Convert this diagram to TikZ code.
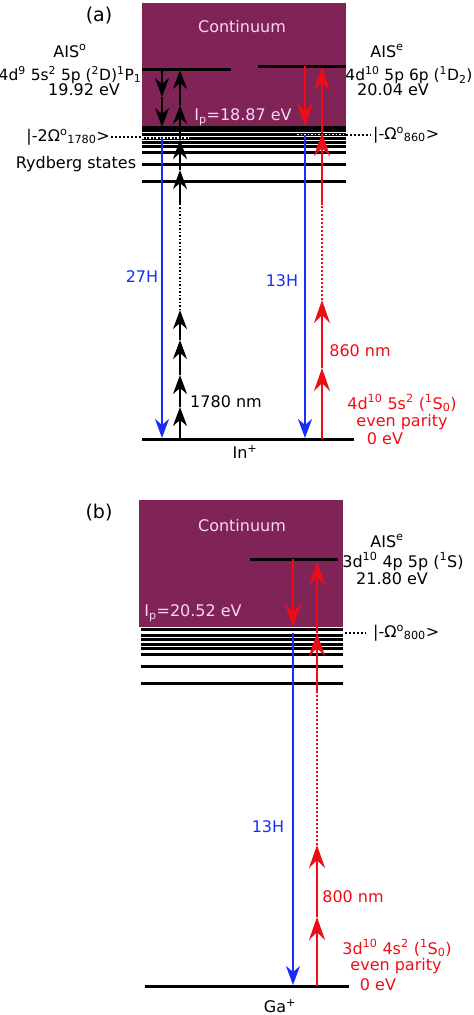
\documentclass[tikz,border=0pt]{standalone}
\usepackage{fontspec}
\setmainfont{DejaVu Sans}
\usetikzlibrary{arrows.meta}

\definecolor{contpurple}{RGB}{128,36,88}
\definecolor{conttext}{RGB}{248,214,244}
\definecolor{hhgblue}{RGB}{25,45,250}
\definecolor{laserred}{RGB}{240,12,20}

\tikzset{
  lvl/.style={line width=3pt},
  photon/.style={-{Stealth[length=19pt,width=14pt,inset=6pt]},line width=1.5pt},
  redphoton/.style={-{Stealth[length=23pt,width=16pt,inset=8pt]},line width=1.5pt,laserred},
  dots/.style={dotted,line width=2pt},
  lbl/.style={inner sep=0pt},
}

\begin{document}
\begin{tikzpicture}[x=1pt,y=-1pt,font=\fontsize{16}{19}\selectfont]
\useasboundingbox (0,0) rectangle (474,1015);

% ---------- (a) indium ----------
\fill[contpurple] (142,3) rectangle (346,127);
\draw[lvl] (142,69)--(231,69) (258,66)--(346,66);
\foreach \y in {127.5,130.5,134.5,138,142,146,152,164.5,181.5}
  \draw[lvl] (142,\y)--(346,\y);
\draw[lvl] (142,439)--(354,439);
\draw[dots] (111,137)--(142,137) (346,134.5)--(371,134.5);
\draw[dots,white,line width=1.5pt] (142,138)--(190,138) (297,134.5)--(345,134.5);

% 1780 nm ladder and 27H
\draw[photon] (162,69)--(162,97);
\draw[photon] (162,97)--(162,127);
\draw[photon,hhgblue] (162,138)--(162,438);
\foreach \y [remember=\y as \ly (initially 439)] in {407,375,340,310}
  \draw[photon] (180,\ly)--(180,\y);
\draw[dots,line width=1.5pt] (180,310)--(180,205);
\foreach \y [remember=\y as \ly (initially 205)] in {170,140,105,70}
  \draw[photon] (180,\ly)--(180,\y);

% 860 nm ladder and 13H
\draw[redphoton] (305,66)--(305,126);
\draw[photon,hhgblue] (305,134.5)--(305,438);
\foreach \y [remember=\y as \ly (initially 439)] in {368,300}
  \draw[redphoton] (322,\ly)--(322,\y);
\draw[dots,laserred] (322,300)--(322,205);
\foreach \y [remember=\y as \ly (initially 205)] in {133,67}
  \draw[redphoton] (322,\ly)--(322,\y);

\node[lbl,font=\fontsize{19}{22}\selectfont] (tagA) at (99,16) {(a)};
\node[lbl,text=conttext] (contA) at (242,27) {Continuum};
\node[lbl,anchor=base] (aisoA) at (70,57) {AIS\textsuperscript{o}};
\node[lbl,anchor=base,font=\fontsize{15.5}{18}\selectfont] (aisoconf) at (70,80) {4d\textsuperscript{9} 5s\textsuperscript{2} 5p (\textsuperscript{2}D)\textsuperscript{1}P\textsubscript{1}};
\node[lbl,anchor=base] (aisoE) at (84,95) {19.92 eV};
\node[lbl,anchor=base] (aiseA) at (387,57) {AIS\textsuperscript{e}};
\node[lbl,anchor=base,font=\fontsize{15.5}{18}\selectfont] (aiseconfA) at (409,80) {4d\textsuperscript{10} 5p 6p (\textsuperscript{1}D\textsubscript{2})};
\node[lbl,anchor=base] (aiseEA) at (393,95) {20.04 eV};
\node[lbl,text=conttext] (ipA) at (243,117) {I\textsubscript{p}=18.87 eV};
\node[lbl,anchor=east] (omega1780) at (110,137) {|-2Ω\textsuperscript{o}\textsubscript{1780}>};
\node[lbl,anchor=west] (omega860) at (373,135) {|-Ω\textsuperscript{o}\textsubscript{860}>};
\node[lbl] (ryd) at (76,164) {Rydberg states};
\node[lbl,text=hhgblue] (h27) at (142,277) {27H};
\node[lbl,text=hhgblue] (h13A) at (282,281) {13H};
\node[lbl,text=laserred] (nm860) at (360,351) {860 nm};
\node[lbl] (nm1780) at (226,402) {1780 nm};
\node[lbl,anchor=base,text=laserred] (gsconfA) at (402,409) {4d\textsuperscript{10} 5s\textsuperscript{2} (\textsuperscript{1}S\textsubscript{0})};
\node[lbl,anchor=base,text=laserred] (parA) at (402,426) {even parity};
\node[lbl,anchor=base,text=laserred] (zeroA) at (385,444) {0 eV};
\node[lbl] (ion) at (245,452) {In\textsuperscript{+}};

% ---------- (b) gallium ----------
\fill[contpurple] (139,500) rectangle (343,627);
\draw[lvl] (250,559)--(338,559);
\foreach \y in {629.5,635,639.5,644,648,654,666.5,683.5}
  \draw[lvl] (141,\y)--(343,\y);
\draw[lvl] (145,986)--(349,986);
\draw[dots] (345,633)--(366,633);

\draw[redphoton] (293,559)--(293,627);
\draw[photon,hhgblue] (293,633)--(293,985);
\foreach \y [remember=\y as \ly (initially 986)] in {917,845}
  \draw[redphoton] (317,\ly)--(317,\y);
\draw[dots,laserred] (317,845)--(317,693);
\foreach \y [remember=\y as \ly (initially 693)] in {633,562}
  \draw[redphoton] (317,\ly)--(317,\y);

\node[lbl,font=\fontsize{19}{22}\selectfont] (tagB) at (99,513) {(b)};
\node[lbl,text=conttext] (contB) at (242,526) {Continuum};
\node[lbl,anchor=base] (aiseB) at (387,547) {AIS\textsuperscript{e}};
\node[lbl,anchor=base] (aiseconfB) at (403,567) {3d\textsuperscript{10} 4p 5p (\textsuperscript{1}S)};
\node[lbl,anchor=base] (aiseEB) at (392,584) {21.80 eV};
\node[lbl,text=conttext] (ipB) at (193,613) {I\textsubscript{p}=20.52 eV};
\node[lbl,anchor=west] (omega800) at (373,633) {|-Ω\textsuperscript{o}\textsubscript{800}>};
\node[lbl,text=hhgblue] (h13B) at (268,827) {13H};
\node[lbl,text=laserred] (nm800) at (353,897) {800 nm};
\node[lbl,anchor=base,text=laserred] (gsconfB) at (397,954) {3d\textsuperscript{10} 4s\textsuperscript{2} (\textsuperscript{1}S\textsubscript{0})};
\node[lbl,anchor=base,text=laserred] (parB) at (396,970) {even parity};
\node[lbl,anchor=base,text=laserred] (zeroB) at (378,990) {0 eV};
\node[lbl] (ionB) at (280,1006) {Ga\textsuperscript{+}};
\end{tikzpicture}
\end{document}
